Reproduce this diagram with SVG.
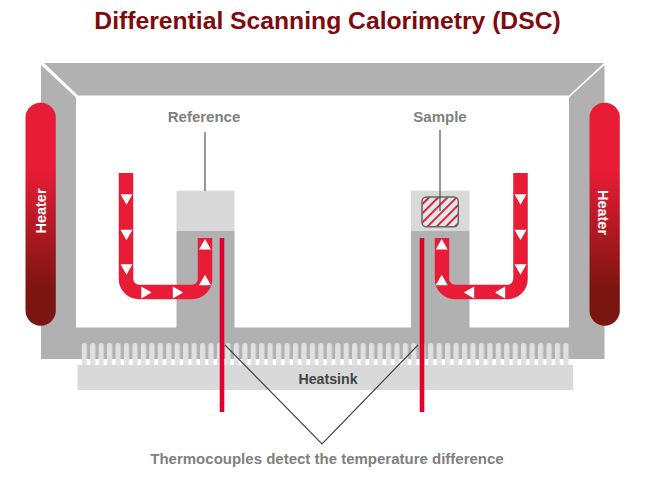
<svg xmlns="http://www.w3.org/2000/svg" width="645" height="479" viewBox="0 0 645 479">
<style>
.t{font-family:"Liberation Sans",Arial,sans-serif;font-weight:700}
.g{fill:#b1b1b1}
.l{fill:#d9d9d9}
.lab{font-size:15px;fill:#808080;text-anchor:middle}
.ht{font-size:14.500px;fill:#fff;text-anchor:middle}
.flow{fill:none;stroke:#e81c37;stroke-width:14.500}
.tc{fill:#e4002b}
.lead{fill:none;stroke:#444;stroke-width:1.100}
.a{fill:#fff}
</style>
<defs>
<linearGradient id="hg" x1="0" y1="0" x2="0" y2="1">
<stop offset="0" stop-color="#e81c37"/><stop offset="0.3" stop-color="#e81c37"/><stop offset="0.84" stop-color="#7a1510"/><stop offset="1" stop-color="#7a1510"/>
</linearGradient>
<pattern id="fins" x="81.700" y="343" width="8.450" height="22" patternUnits="userSpaceOnUse">
<rect x="0" y="0" width="5.200" height="26" rx="2.600" fill="#e0e0e0"/>
</pattern>
<pattern id="hatch" width="6.500" height="6.500" patternUnits="userSpaceOnUse" patternTransform="rotate(45)">
<rect width="6.500" height="6.500" fill="#d8ecec"/><rect width="2" height="6.500" fill="#e81c37"/>
</pattern>
<polygon id="d" class="a" points="-6,-5.200 6,-5.200 0,5.200"/>
</defs>
<text class="t" x="327.500" y="28.500" font-size="24.700" fill="#7f0a0e" text-anchor="middle">Differential Scanning Calorimetry (DSC)</text>
<g id="chamber">
<polygon class="g" points="44,63 604,63 569,95.500 78,95.500"/>
<polygon class="g" points="41,65 76,97.500 76,327.500 176.500,327.500 176.500,231 234.500,231 234.500,327.500 411,327.500 411,231 469.500,231 469.500,327.500 569,327.500 569,97.500 604.500,65 604.500,359 41,359"/>
</g>
<g id="heatsink">
<rect class="l" x="77.500" y="365" width="495.500" height="25"/>
<rect x="81.700" y="343" width="490" height="22" fill="url(#fins)"/>
<text class="t" x="328" y="384" font-size="14.200" fill="#444" text-anchor="middle">Heatsink</text>
</g>
<g id="heater-left">
<rect x="25.500" y="102.700" width="30.300" height="223" rx="15.100" fill="url(#hg)"/>
<text class="t ht" transform="translate(46,211) rotate(-90)">Heater</text>
</g>
<g id="heater-right">
<rect x="589.500" y="102.700" width="30.300" height="223" rx="15.100" fill="url(#hg)"/>
<text class="t ht" transform="translate(598,212.500) rotate(90)">Heater</text>
</g>
<g id="reference">
<rect class="l" x="176.500" y="190.700" width="58" height="40.300"/>
<text class="t lab" x="204" y="122">Reference</text>
</g>
<g id="sample">
<rect class="l" x="411" y="190.700" width="58.500" height="40.300"/>
<rect x="422" y="197" width="36.300" height="29.700" rx="4.500" fill="url(#hatch)" stroke="#666" stroke-width="1.500"/>
<text class="t lab" x="440" y="122">Sample</text>
</g>
<g id="connectors">
<path class="flow" d="M126 173V279a13 13 0 0 0 13 13H192a13 13 0 0 0 13-13V238"/>
<path class="flow" d="M520.500 173V279a13 13 0 0 1-13 13H455a13 13 0 0 1-13-13V238"/>
<rect class="tc" x="219.700" y="238" width="4.600" height="174"/>
<rect class="tc" x="419.700" y="238" width="4.600" height="174"/>
<path class="lead" d="M205 132V191M440 130V211M225 345L322 444L418 345"/>
</g>
<g id="flow-arrows">
<use href="#d" x="126.500" y="199.500"/><use href="#d" x="126.500" y="235"/><use href="#d" x="126.500" y="269.500"/>
<use href="#d" transform="translate(146.500,292.500) rotate(-90)"/><use href="#d" transform="translate(178,292.500) rotate(-90)"/>
<use href="#d" transform="translate(205,244.200) rotate(180)"/><use href="#d" transform="translate(205,280) rotate(180)"/>
<use href="#d" x="520.500" y="199.500"/><use href="#d" x="520.500" y="235"/><use href="#d" x="520.500" y="269.500"/>
<use href="#d" transform="translate(500,292.500) rotate(90)"/><use href="#d" transform="translate(469,292.500) rotate(90)"/>
<use href="#d" transform="translate(441.700,244.200) rotate(180)"/><use href="#d" transform="translate(441.700,280) rotate(180)"/>
</g>
<text class="t lab" x="327" y="464.300">Thermocouples detect the temperature difference</text>
</svg>
